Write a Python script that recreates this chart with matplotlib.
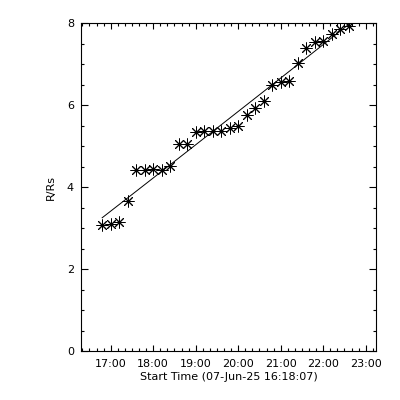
# height-time plot, R/Rs vs start time
import numpy as np
import pandas as pd
import matplotlib
matplotlib.use("Agg")
import matplotlib.pyplot as plt
import matplotlib.dates as mdates
from matplotlib.ticker import MultipleLocator

times = ["16:48", "17:00", "17:12", "17:24", "17:36", "17:48", "18:00", "18:12",
         "18:24", "18:36", "18:48", "19:00", "19:12", "19:24", "19:36", "19:48",
         "20:00", "20:12", "20:24", "20:36", "20:48", "21:00", "21:12", "21:24",
         "21:36", "21:48", "22:00", "22:12", "22:24", "22:36"]
heights = [3.07, 3.10, 3.14, 3.66, 4.41, 4.41, 4.43, 4.42, 4.52, 5.04,
           5.04, 5.33, 5.37, 5.37, 5.37, 5.44, 5.48, 5.76, 5.93, 6.10,
           6.49, 6.57, 6.59, 7.02, 7.38, 7.54, 7.57, 7.72, 7.85, 7.93]
day = "2025-06-07 "
t_start = "16:18:07"
t_end = "23:14:30"

t = pd.to_datetime([day + s for s in times])
x = mdates.date2num(t)
y = np.array(heights)

# fit through the points
x0 = x[0]
coef = np.polyfit(x - x0, y, 2)
yfit = np.polyval(coef, x - x0)

plt.rcParams['font.family'] = 'DejaVu Sans'
fig = plt.figure(figsize=(4, 4), dpi=100)
ax = fig.add_axes([0.2025, 0.1225, 0.7375, 0.82])

ax.plot(t, y, linestyle='none', marker=(8, 2, 0), markersize=8.5,
        markeredgewidth=0.7, color='black')
ax.plot(t, yfit, color='black', linewidth=0.7)

ax.set_xlim(pd.Timestamp(day + t_start), pd.Timestamp(day + t_end))
ax.set_ylim(0, 8)
ax.xaxis.set_major_locator(mdates.HourLocator())
ax.xaxis.set_minor_locator(mdates.MinuteLocator(byminute=range(0, 60, 10)))
ax.xaxis.set_major_formatter(mdates.DateFormatter('%H:%M'))
ax.yaxis.set_major_locator(MultipleLocator(2))
ax.yaxis.set_minor_locator(MultipleLocator(0.5))

ax.tick_params(which='both', direction='in', top=True, right=True,
               labelsize=8, width=0.8)
ax.tick_params(axis='x', which='major', length=4, pad=6)
ax.tick_params(axis='x', which='minor', length=2.2)
ax.tick_params(axis='y', which='major', length=5, pad=5)
ax.tick_params(axis='y', which='minor', length=2.5)
for sp in ax.spines.values():
    sp.set_linewidth(0.8)

ax.set_xlabel('Start Time (07-Jun-25 16:18:07)', fontsize=8, labelpad=2)
ax.set_ylabel('R/Rs', fontsize=8, labelpad=8)

fig.savefig('out.png', dpi=100)
